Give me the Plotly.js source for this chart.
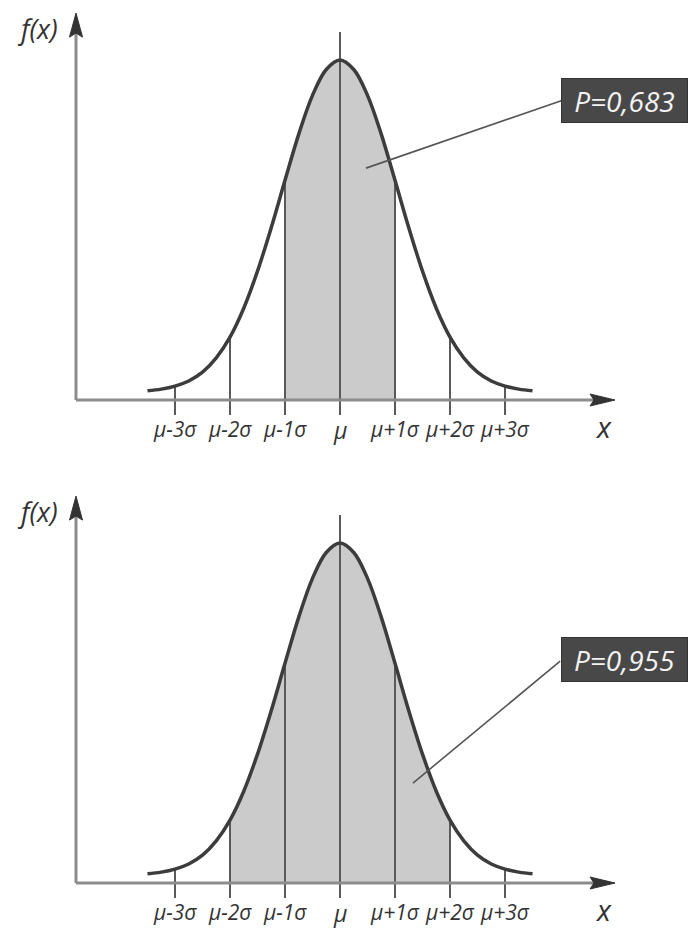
<!DOCTYPE html>
<html>
<head>
<meta charset="utf-8">
<script src="https://cdn.plot.ly/plotly-3.0.1.min.js"></script>
<style>
  html, body { margin: 0; padding: 0; background: #fff; }
  #chart { width: 692px; height: 929px; }
</style>
</head>
<body>
<div id="chart"></div>
<script>
// Position along the x axis, in standard deviations from the mean
const sigmaSteps = [-3.5, -3.25, -3, -2.75, -2.5, -2.25, -2, -1.75, -1.5, -1.25, -1, -0.75, -0.5, -0.25,
                    0, 0.25, 0.5, 0.75, 1, 1.25, 1.5, 1.75, 2, 2.25, 2.5, 2.75, 3, 3.25, 3.5];
// Height of the bell curve at each step (peak = 1)
const density = [0.027, 0.032, 0.041, 0.056, 0.082, 0.124, 0.185, 0.270, 0.379, 0.507, 0.646, 0.782, 0.896, 0.972,
                 1.000, 0.972, 0.896, 0.782, 0.646, 0.507, 0.379, 0.270, 0.185, 0.124, 0.082, 0.056, 0.041, 0.032, 0.027];

// Tick positions and labels on the x axis
const tickPositions = [-3, -2, -1, 0, 1, 2, 3];
const tickLabels = ['μ-3σ', 'μ-2σ', 'μ-1σ', 'μ', 'μ+1σ', 'μ+2σ', 'μ+3σ'];

// Shaded interval (±k σ) and its probability for each panel
const shadedBounds = [1, 2];
const probabilityLabels = ['P=0,683', 'P=0,955'];

const FONT = '"Open Sans", "DejaVu Sans", sans-serif';
const CURVE = '#3c3c3c';
const GUIDE = '#5a5a5a';
const AXIS = '#8c8c8c';
const HEAD = '#333333';

function heightAt(x) {
  const i = sigmaSteps.indexOf(x);
  return density[i];
}

// Per-panel placement of the pointer and the probability box
const panels = [
  { xa: 'x',  ya: 'y',  pointer: [0.473, 0.682], box: [5.18, 0.882], tail: [4.05, 0.882] },
  { xa: 'x2', ya: 'y2', pointer: [1.327, 0.294], box: [5.18, 0.656], tail: [4.03, 0.656] }
];

const AXIS_X0 = -4.8, AXIS_X1 = 5.0, AXIS_TOP = 1.088, AXIS_TIP = 1.138;
const TICK_LOW = -0.044, CENTER_TOP = 1.082;

const traces = [];
const shapes = [];
const annotations = [];

panels.forEach((p, idx) => {
  const k = shadedBounds[idx];
  const xs = [], ys = [];
  sigmaSteps.forEach((s, i) => { if (s >= -k && s <= k) { xs.push(s); ys.push(density[i]); } });

  // shaded area under the curve
  traces.push({
    x: xs, y: ys, xaxis: p.xa, yaxis: p.ya, type: 'scatter', mode: 'lines',
    line: { shape: 'spline', width: 0, color: '#cbcbcb' },
    fill: 'tozeroy', fillcolor: '#cbcbcb', hoverinfo: 'skip'
  });

  // vertical guides at each σ step, from just below the axis up to the curve
  const gx = [], gy = [];
  tickPositions.forEach(t => {
    const top = t === 0 ? CENTER_TOP : heightAt(t);
    gx.push(t, t, null);
    gy.push(TICK_LOW, top, null);
  });
  traces.push({
    x: gx, y: gy, xaxis: p.xa, yaxis: p.ya, type: 'scatter', mode: 'lines',
    line: { width: 2, color: GUIDE }, hoverinfo: 'skip'
  });

  // the bell curve
  traces.push({
    x: sigmaSteps, y: density, xaxis: p.xa, yaxis: p.ya, type: 'scatter', mode: 'lines',
    line: { shape: 'spline', width: 3.5, color: CURVE }, hoverinfo: 'skip'
  });

  // axes with arrowheads
  shapes.push({ type: 'line', xref: p.xa, yref: p.ya, x0: AXIS_X0, x1: AXIS_X1 - 0.3, y0: 0, y1: 0,
                line: { color: AXIS, width: 3 } });
  shapes.push({ type: 'line', xref: p.xa, yref: p.ya, x0: AXIS_X0, x1: AXIS_X0, y0: 0, y1: AXIS_TOP,
                line: { color: AXIS, width: 3 } });
  shapes.push({ type: 'path', xref: p.xa, yref: p.ya, xsizemode: 'pixel', ysizemode: 'pixel',
                xanchor: AXIS_X1, yanchor: 0, path: 'M0,0 L-25,6 L-21,0 L-25,-6 Z',
                fillcolor: HEAD, line: { color: HEAD, width: 1 } });
  shapes.push({ type: 'path', xref: p.xa, yref: p.ya, xsizemode: 'pixel', ysizemode: 'pixel',
                xanchor: AXIS_X0, yanchor: AXIS_TIP, path: 'M0,0 L-6.5,-24 L0,-20 L6.5,-24 Z',
                fillcolor: HEAD, line: { color: HEAD, width: 1 } });

  // tick labels
  tickPositions.forEach((t, i) => {
    const isMu = t === 0;
    annotations.push({
      xref: p.xa, yref: p.ya, x: t, y: 0, yshift: isMu ? -30 : -29, showarrow: false,
      text: tickLabels[i], xanchor: 'center', yanchor: 'middle',
      font: { family: FONT, size: isMu ? 23 : 21, color: '#333', style: 'italic' }
    });
  });

  // axis names
  annotations.push({
    xref: p.xa, yref: p.ya, x: AXIS_X0, y: AXIS_TIP, xshift: -39, yshift: -15, showarrow: false,
    text: 'f(x)', xanchor: 'center', yanchor: 'middle',
    font: { family: FONT, size: 27, color: '#333', style: 'italic' }
  });
  annotations.push({
    xref: p.xa, yref: p.ya, x: AXIS_X1, y: 0, xshift: -12, yshift: -26, showarrow: false,
    text: 'x', xanchor: 'center', yanchor: 'middle',
    font: { family: FONT, size: 29, color: '#333', style: 'italic' }
  });

  // pointer line and probability box
  annotations.push({
    xref: p.xa, yref: p.ya, x: p.pointer[0], y: p.pointer[1],
    axref: p.xa, ayref: p.ya, ax: p.tail[0], ay: p.tail[1],
    text: '', showarrow: true, arrowhead: 0, arrowwidth: 1.6, arrowcolor: '#555', standoff: 0
  });
  annotations.push({
    xref: p.xa, yref: p.ya, x: p.box[0], y: p.box[1], showarrow: false,
    text: probabilityLabels[idx], xanchor: 'center', yanchor: 'middle',
    width: 121, height: 39, borderpad: 2, bgcolor: '#484848', bordercolor: '#333', borderwidth: 1,
    font: { family: FONT, size: 28, color: '#f2f2f2', style: 'italic' }
  });
});

const layout = {
  width: 692, height: 929,
  margin: { l: 0, r: 0, t: 0, b: 0 },
  paper_bgcolor: '#fff', plot_bgcolor: '#fff',
  showlegend: false,
  xaxis:  { domain: [0, 1], range: [-6.1818, 6.4], visible: false, fixedrange: true, anchor: 'y' },
  yaxis:  { domain: [0.5, 1], range: [-0.18971, 1.17647], visible: false, fixedrange: true, anchor: 'x' },
  xaxis2: { domain: [0, 1], range: [-6.1818, 6.4], visible: false, fixedrange: true, anchor: 'y2' },
  yaxis2: { domain: [0, 0.5], range: [-0.13529, 1.23088], visible: false, fixedrange: true, anchor: 'x2' },
  shapes: shapes,
  annotations: annotations
};

Plotly.newPlot('chart', traces, layout, { displayModeBar: false, staticPlot: true });
</script>
</body>
</html>
